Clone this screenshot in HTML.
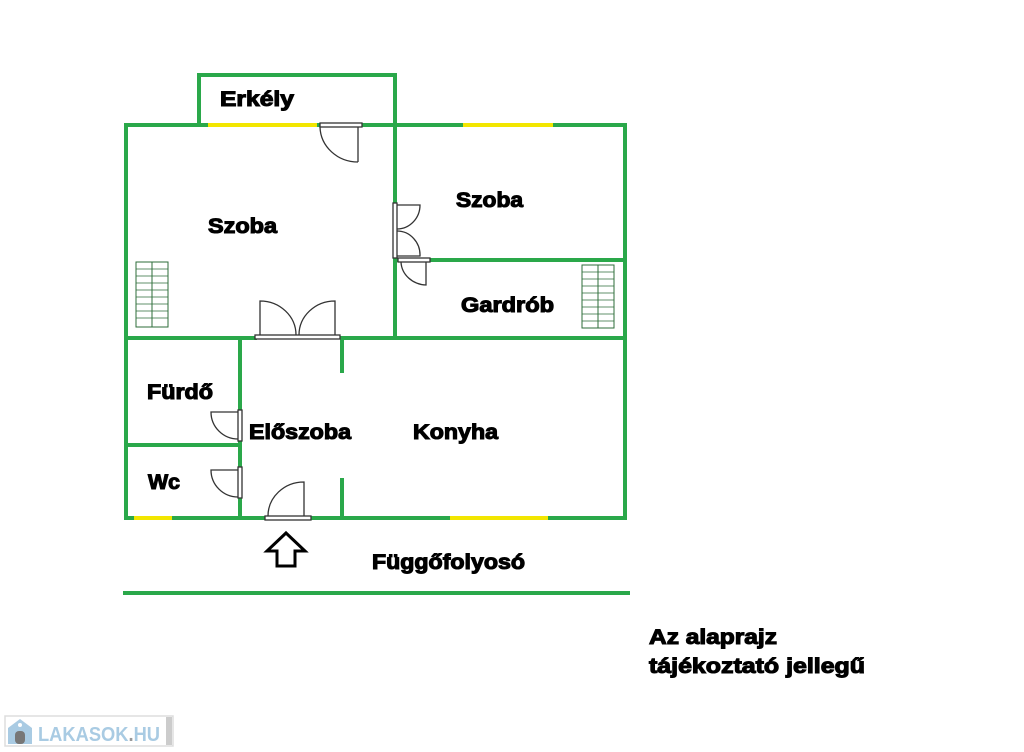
<!DOCTYPE html>
<html><head><meta charset="utf-8"><style>
html,body{margin:0;padding:0;background:#fff;}
svg{display:block}
.t{font-family:"Liberation Sans",Arial,sans-serif;font-weight:bold;font-size:21px;fill:#000;stroke:#000;stroke-width:1.1px;}
</style></head><body>
<svg width="1024" height="752" viewBox="0 0 1024 752" xmlns="http://www.w3.org/2000/svg">
<g stroke="#2aa84a" stroke-width="4" fill="none" stroke-linecap="square">
<polyline points="199,125 199,75 395,75 395,125"/>
<line x1="126" y1="125" x2="625" y2="125"/>
<line x1="126" y1="125" x2="126" y2="518"/>
<line x1="625" y1="125" x2="625" y2="518"/>
<line x1="126" y1="518" x2="265" y2="518"/>
<line x1="311" y1="518" x2="625" y2="518"/>
<line x1="395" y1="125" x2="395" y2="202"/>
<line x1="395" y1="258" x2="395" y2="337"/>
<line x1="395" y1="260" x2="625" y2="260"/>
<line x1="126" y1="338" x2="255" y2="338"/>
<line x1="342" y1="338" x2="625" y2="338"/>
<line x1="240" y1="338" x2="240" y2="408"/>
<line x1="240" y1="441" x2="240" y2="466"/>
<line x1="240" y1="498" x2="240" y2="518"/>
<line x1="126" y1="445" x2="240" y2="445"/>
<line x1="342" y1="338" x2="342" y2="371"/>
<line x1="342" y1="480" x2="342" y2="518"/>
<line x1="125" y1="593" x2="628" y2="593"/>
</g>
<g stroke="#f2e600" stroke-width="4">
<line x1="208" y1="125" x2="317" y2="125"/>
<line x1="463" y1="125" x2="553" y2="125"/>
<line x1="134" y1="518" x2="172" y2="518"/>
<line x1="450" y1="518" x2="548" y2="518"/>
</g>
<g stroke="#333" stroke-width="1.3" fill="#fff">
<rect x="320" y="123" width="42" height="4"/>
<path d="M358,127 L358,162 M320,127 A38,36 0 0 0 358,162" fill="none"/>
<rect x="255" y="335" width="85" height="4"/>
<path d="M260,335 L260,301 A36,34 0 0 1 296,335 M335,335 L335,301 A36,34 0 0 0 299,335" fill="none"/>
<rect x="393" y="203" width="4" height="55"/>
<path d="M397,205 L420,205 A23,24 0 0 1 397,229 M397,231 A23,24 0 0 1 420,256 L397,256" fill="none"/>
<rect x="398" y="258" width="32" height="4"/>
<path d="M426,262 L426,285 A26,24 0 0 1 401,262" fill="none"/>
<rect x="238" y="410" width="4" height="31"/>
<path d="M238,412 L211,412 A27,27 0 0 0 238,439" fill="none"/>
<rect x="238" y="467" width="4" height="31"/>
<path d="M238,470 L211,470 A27,27 0 0 0 238,497" fill="none"/>
<rect x="265" y="516" width="46" height="4"/>
<path d="M304,516 L304,482 A36,34 0 0 0 268,516" fill="none"/>
</g>
<g stroke="#2e6e3a" stroke-width="1" fill="none">
<rect x="136" y="262" width="32" height="65"/>
<line x1="152" y1="262" x2="152" y2="327"/>
<rect x="582" y="265" width="32" height="63"/>
<line x1="598" y1="265" x2="598" y2="328"/>
</g>
<g stroke="#2e6e3a" stroke-width="0.8">
<line x1="136" y1="269" x2="168" y2="269"/><line x1="136" y1="276" x2="168" y2="276"/><line x1="136" y1="283" x2="168" y2="283"/><line x1="136" y1="290" x2="168" y2="290"/><line x1="136" y1="297" x2="168" y2="297"/><line x1="136" y1="304" x2="168" y2="304"/><line x1="136" y1="311" x2="168" y2="311"/><line x1="136" y1="318" x2="168" y2="318"/>
<line x1="582" y1="272" x2="614" y2="272"/><line x1="582" y1="279" x2="614" y2="279"/><line x1="582" y1="286" x2="614" y2="286"/><line x1="582" y1="293" x2="614" y2="293"/><line x1="582" y1="300" x2="614" y2="300"/><line x1="582" y1="307" x2="614" y2="307"/><line x1="582" y1="314" x2="614" y2="314"/><line x1="582" y1="321" x2="614" y2="321"/>
</g>
<path d="M286,533 L305,551 L295,551 L295,566 L277,566 L277,551 L267,551 Z" fill="#fff" stroke="#000" stroke-width="3" stroke-linejoin="miter"/>
<text class="t" x="220" y="106" textLength="74" lengthAdjust="spacingAndGlyphs">Erkély</text>
<text class="t" x="208" y="233" textLength="69" lengthAdjust="spacingAndGlyphs">Szoba</text>
<text class="t" x="456" y="207" textLength="67" lengthAdjust="spacingAndGlyphs">Szoba</text>
<text class="t" x="461" y="312" textLength="93" lengthAdjust="spacingAndGlyphs">Gardrób</text>
<text class="t" x="147" y="399" textLength="66" lengthAdjust="spacingAndGlyphs">Fürdő</text>
<text class="t" x="148" y="489" textLength="32" lengthAdjust="spacingAndGlyphs">Wc</text>
<text class="t" x="249" y="439" textLength="102" lengthAdjust="spacingAndGlyphs">Előszoba</text>
<text class="t" x="413" y="439" textLength="85" lengthAdjust="spacingAndGlyphs">Konyha</text>
<text class="t" x="372" y="569" textLength="153" lengthAdjust="spacingAndGlyphs">Függőfolyosó</text>
<text class="t" x="649" y="644" textLength="128" lengthAdjust="spacingAndGlyphs">Az alaprajz</text>
<text class="t" x="649" y="673" textLength="216" lengthAdjust="spacingAndGlyphs">tájékoztató jellegű</text>
<rect x="5" y="716" width="168" height="30" fill="#fff" stroke="#ddd" stroke-width="1.5"/>
<rect x="166" y="717" width="6" height="28" fill="#ccc"/>
<path d="M8,728 L20,719 L32,728 L32,744 L8,744 Z" fill="#a9cbe3"/>
<rect x="15" y="731" width="10" height="13" rx="4" fill="#777"/>
<circle cx="20" cy="725" r="2" fill="#fff"/>
<text x="38" y="741" font-family="Liberation Sans,Arial,sans-serif" font-weight="bold" font-size="20" fill="#a9cbe3" textLength="122" lengthAdjust="spacingAndGlyphs">LAKASOK<tspan fill="#999">.</tspan>HU</text>
</svg>
</body></html>
